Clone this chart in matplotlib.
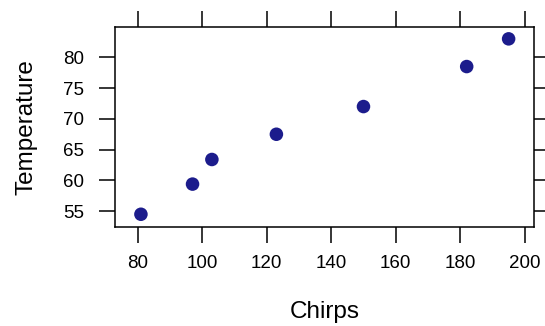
import matplotlib
matplotlib.use("Agg")
import matplotlib.pyplot as plt

chirps = [81, 97, 103, 123, 150, 182, 195]
temperature = [54.5, 59.4, 63.4, 67.5, 72.0, 78.5, 83.0]
x_ticks = [80, 100, 120, 140, 160, 180, 200]
y_ticks = [55, 60, 65, 70, 75, 80]

plt.rcParams['font.family'] = ['Liberation Sans', 'DejaVu Sans']

fig = plt.figure(figsize=(5.45, 3.26), dpi=100)
ax = fig.add_axes([0.211, 0.305, 0.769, 0.613])

ax.scatter(chirps, temperature, s=95, color='#1c1c8c', edgecolors='none', zorder=3)

ax.set_xlim(72.96, 202.9)
ax.set_ylim(52.5, 84.97)
ax.set_xticks(x_ticks)
ax.set_yticks(y_ticks)

ax.tick_params(axis='both', direction='out', length=11.5, width=1.1,
               labelsize=13.5, top=True, right=True, labeltop=False, labelright=False)
ax.tick_params(axis='x', pad=9)
ax.tick_params(axis='y', pad=11)
for sp in ax.spines.values():
    sp.set_linewidth(1.1)

# label positions in axes coords (lattice-like spacing)
ax.set_xlabel("Chirps", fontsize=17.5, va='baseline')
ax.xaxis.set_label_coords(0.5, -0.456)
ax.set_ylabel("Temperature", fontsize=17.5, va='baseline')
ax.yaxis.set_label_coords(-0.196, 0.5)

fig.savefig("out.png", dpi=100)
